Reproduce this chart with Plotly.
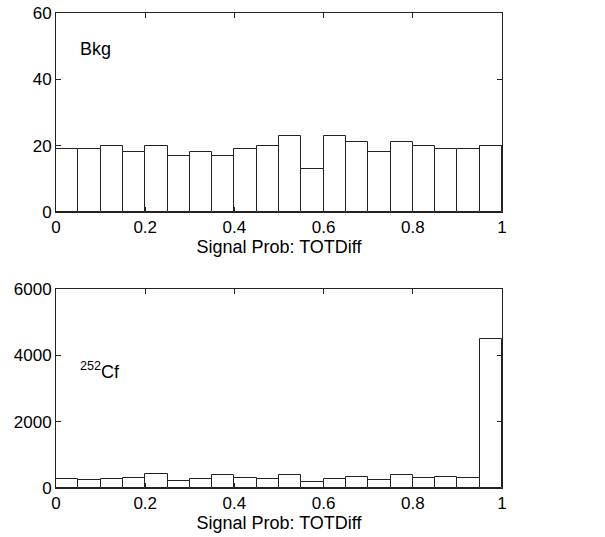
import plotly.graph_objects as go

bin_width = 0.05
bin_centers = [round(bin_width * (i + 0.5), 3) for i in range(20)]
bkg_counts = [19, 19, 20, 18, 20, 17, 18, 17, 19, 20, 23, 13, 23, 21, 18, 21, 20, 19, 19, 20]
cf_counts = [270, 230, 280, 300, 410, 220, 270, 390, 300, 270, 390, 190, 270, 330, 250, 400, 310, 320, 300, 4500]
x_ticks = [0, 0.2, 0.4, 0.6, 0.8, 1]
x_ticklabels = ["0", "0.2", "0.4", "0.6", "0.8", "1"]
bkg_yticks = [0, 20, 40, 60]
cf_yticks = [0, 2000, 4000, 6000]
x_title = "Signal Prob: TOTDiff"

H = 537
FONT = dict(family="Liberation Sans, Arial, sans-serif", size=17, color="black")
TFONT = dict(family="Liberation Sans, Arial, sans-serif", size=18, color="black")

fig = go.Figure()
bar_style = dict(marker=dict(color="white", line=dict(color="#222", width=1)), width=bin_width, showlegend=False, hoverinfo="skip")
fig.add_trace(go.Bar(x=bin_centers, y=bkg_counts, xaxis="x", yaxis="y", **bar_style))
fig.add_trace(go.Bar(x=bin_centers, y=cf_counts, xaxis="x2", yaxis="y2", **bar_style))

def xax(anchor):
    return dict(domain=[0, 1], anchor=anchor, range=[0, 1], tickvals=x_ticks, ticktext=x_ticklabels,
                ticks="inside", ticklen=5, tickcolor="#222", showline=True, linecolor="#222", linewidth=1,
                mirror="ticks", showgrid=False, zeroline=False, tickfont=FONT, automargin=False,
                title=dict(text=x_title, font=TFONT, standoff=0))

def yax(anchor, dom, rng, ticks):
    return dict(domain=dom, anchor=anchor, range=rng, tickvals=ticks,
                ticks="inside", ticklen=5, tickcolor="#222", showline=True, linecolor="#222", linewidth=1,
                mirror="ticks", showgrid=False, zeroline=False, tickfont=FONT, automargin=False)

fig.update_layout(
    width=605, height=537,
    margin=dict(l=56, r=103, t=0, b=0),
    plot_bgcolor="white", paper_bgcolor="white",
    font=FONT,
    xaxis=xax("y"),
    yaxis=yax("x", [1 - 212 / H, 1 - 13 / H], [0, 60], bkg_yticks),
    xaxis2=xax("y2"),
    yaxis2=yax("x2", [1 - 488 / H, 1 - 289 / H], [0, 6000], cf_yticks),
    bargap=0,
    annotations=[
        dict(x=0.05, y=49, xref="x", yref="y", text="Bkg", showarrow=False, xanchor="left", yanchor="middle", font=TFONT),
        dict(x=0.05, y=3550, xref="x2", yref="y2", text="<sup>252</sup>Cf", showarrow=False, xanchor="left", yanchor="middle", font=TFONT),
    ],
)

fig.write_html("out.html")
